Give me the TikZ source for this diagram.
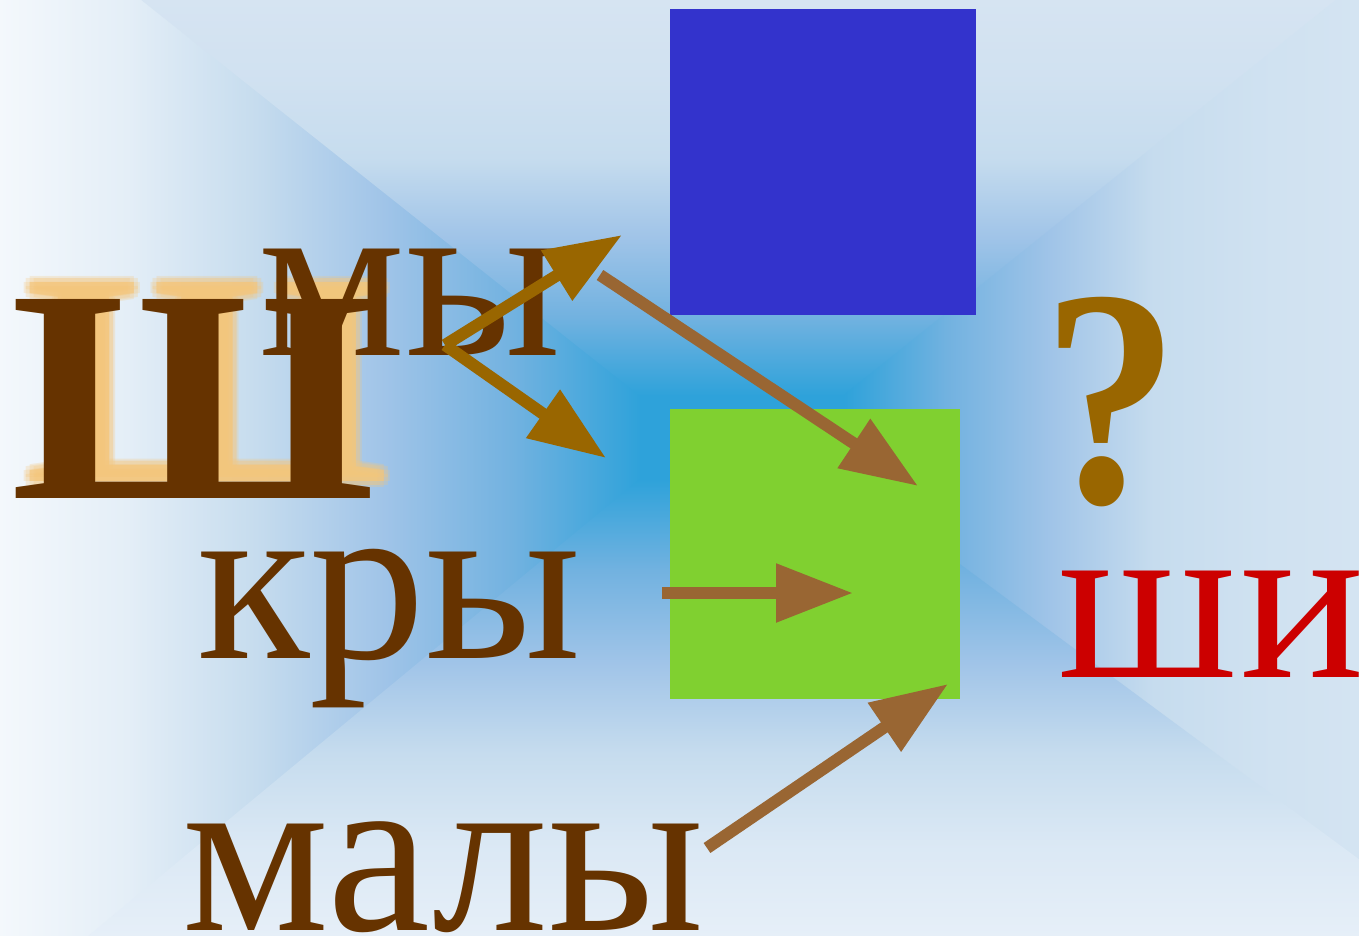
\documentclass[tikz,border=0pt]{standalone}
\usepackage{fontspec}
\setmainfont{Liberation Serif}
\usetikzlibrary{arrows.meta}
\definecolor{cEdgeL}{HTML}{F4F8FC}
\definecolor{cEdgeT}{HTML}{D6E4F2}
\definecolor{cEdgeR}{HTML}{D4E4F2}
\definecolor{cEdgeB}{HTML}{E6EFF8}
\definecolor{cMidA}{HTML}{C6DCEE}
\definecolor{cMidB}{HTML}{A0C4E8}
\definecolor{cMidC}{HTML}{72B2E0}
\definecolor{cCenter}{HTML}{2EA2DA}
\colorlet{cL2}{cEdgeL!65!cMidA}
\colorlet{cT2}{cEdgeT!65!cMidA}
\colorlet{cR2}{cEdgeR!65!cMidA}
\colorlet{cB2}{cEdgeB!65!cMidA}
\definecolor{cBlue}{HTML}{3333CC}
\definecolor{cGreen}{HTML}{80D030}
\definecolor{cBrown}{HTML}{663300}
\definecolor{cGold}{HTML}{996600}
\definecolor{cTan}{HTML}{996633}
\definecolor{cRed}{HTML}{CC0000}
\definecolor{cGlow}{HTML}{F5C67A}
\pgfdeclarehorizontalshading{bgL}{100bp}{color(0bp)=(cEdgeL); color(25bp)=(cEdgeL); color(35bp)=(cL2); color(45bp)=(cMidA); color(55bp)=(cMidB); color(65bp)=(cMidC); color(75bp)=(cCenter); color(100bp)=(cCenter)}
\pgfdeclarehorizontalshading{bgR}{100bp}{color(0bp)=(cCenter); color(25bp)=(cCenter); color(35bp)=(cMidC); color(45bp)=(cMidB); color(55bp)=(cMidA); color(65bp)=(cR2); color(75bp)=(cEdgeR); color(100bp)=(cEdgeR)}
\pgfdeclareverticalshading{bgT}{100bp}{color(0bp)=(cCenter); color(25bp)=(cCenter); color(35bp)=(cMidC); color(45bp)=(cMidB); color(55bp)=(cMidA); color(65bp)=(cT2); color(75bp)=(cEdgeT); color(100bp)=(cEdgeT)}
\pgfdeclareverticalshading{bgB}{100bp}{color(0bp)=(cEdgeB); color(25bp)=(cEdgeB); color(35bp)=(cB2); color(45bp)=(cMidA); color(55bp)=(cMidB); color(65bp)=(cMidC); color(75bp)=(cCenter); color(100bp)=(cCenter)}
\tikzset{
  bigtxt/.style={anchor=base west, inner sep=0pt, font=\fontsize{232}{232}\selectfont},
  hugetxt/.style={anchor=base west, inner sep=0pt, font=\bfseries\fontsize{304}{304}\selectfont},
  goldarrow/.style={draw=cGold, line width=12pt, -{Triangle[length=77pt,width=56pt]}, fill=cGold},
  tanarrow/.style={draw=cTan, line width=12pt, -{Triangle[length=77pt,width=56pt]}, fill=cTan},
}
\newcommand{\wideSha}{\scalebox{1.095}[1]{Ш}}
\begin{document}
\begin{tikzpicture}[x=1pt,y=-1pt]
\useasboundingbox (0,0) rectangle (1359,936);
\clip (0,0) rectangle (1359,936);
% background
\fill[cMidB] (0,0) rectangle (1359,936);
\shade[shading=bgL] (-1,-1) -- (141,-1) -- (641,395) -- (641,480) -- (88,937) -- (-1,937) -- cycle;
\shade[shading=bgT] (140,-1) -- (1338,-1) -- (845,396) -- (640,396) -- cycle;
\shade[shading=bgR] (1337,-1) -- (1360,-1) -- (1360,861) -- (844,480) -- (844,395) -- cycle;
\shade[shading=bgB] (87,937) -- (640,479) -- (845,479) -- (1360,860) -- (1360,937) -- cycle;
\fill[cCenter] (640,395) rectangle (845,480);
% squares
\node[fill=cBlue, minimum width=306pt, minimum height=306pt, inner sep=0pt, anchor=north west] (blue) at (670,9) {};
\node[fill=cGreen, minimum width=290pt, minimum height=290pt, inner sep=0pt, anchor=north west] (green) at (670,409) {};
% glow of the big letter
\foreach \dx/\dy in {0/0,6/0,-6/0,0/6,0/-6,4/4,-4/4,4/-4,-4/-4} {
  \node[hugetxt, text=cGlow, opacity=0.25] at (24+\dx,481+\dy) {\wideSha};
}
\node[hugetxt, text=cGlow, opacity=0.5] (glow) at (24,481) {\wideSha};
% texts
\node[hugetxt, text=cBrown] (sha) at (10,498) {\wideSha};
\node[bigtxt, text=cBrown] (my) at (258,355) {мы};
\node[bigtxt, text=cBrown] (kry) at (197,658) {кры};
\node[bigtxt, text=cBrown] (maly) at (182,930) {малы};
\node[bigtxt, text=cRed] (shi) at (1058,677) {ш\kern4pt и};
\node[hugetxt, text=cGold] (q) at (1042,502) {\scalebox{0.9}[1.02]{?}};
% arrow ends
\coordinate (a1s) at (445,345);
\coordinate (a1e) at (622,235);
\coordinate (a2s) at (445,345);
\coordinate (a2e) at (606,458);
\coordinate (a3s) at (600,275);
\coordinate (a3e) at (918,486);
\coordinate (a4s) at (662,593);
\coordinate (a4e) at (853,593);
\coordinate (a5s) at (707,848);
\coordinate (a5e) at (948,684);
\draw[goldarrow] (a1s) -- (a1e);
\draw[goldarrow] (a2s) -- (a2e);
\draw[tanarrow] (a3s) -- (a3e);
\draw[tanarrow] (a4s) -- (a4e);
\draw[tanarrow] (a5s) -- (a5e);
\end{tikzpicture}
\end{document}
